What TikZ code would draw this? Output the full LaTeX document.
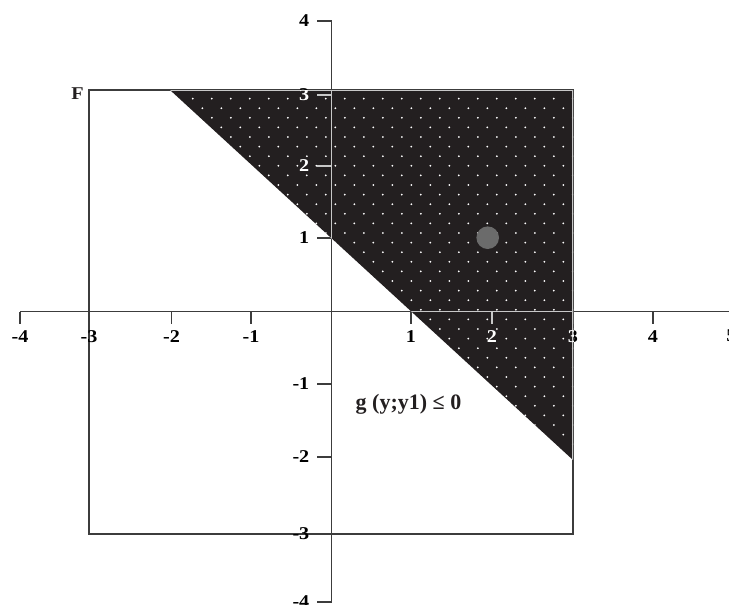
\documentclass[tikz,border=0pt]{standalone}
\usepackage{fontspec}
\setmainfont{Liberation Serif}
\newfontfamily\lblfont[FakeStretch=1.12]{Liberation Serif}
\definecolor{ink}{HTML}{3C3C3C}
\definecolor{darkfill}{HTML}{231F20}
\definecolor{knock}{HTML}{C8C8C8}
\definecolor{dotgray}{HTML}{6B6B6B}
\tikzset{
  axisline/.style={line width=1.3pt, draw=ink},
  ticklbl/.style={font=\lblfont\bfseries\fontsize{18}{20}\selectfont, inner sep=0pt},
  biglbl/.style={font=\bfseries\fontsize{22}{24}\selectfont, inner sep=0pt},
}
\begin{document}
\begin{tikzpicture}[x=1pt,y=-1pt]
\useasboundingbox (0,0) rectangle (729,605);
% region F
\draw[axisline] (89,90) rectangle (573,534);
% axes
\coordinate (xs) at (20,311.5);
\coordinate (xe) at (729,311.5);
\coordinate (ys) at (331.5,21);
\coordinate (ye) at (331.5,603);
\draw[axisline] (xs) -- (xe);
\draw[axisline] (ys) -- (ye);
\foreach \v/\p in {-4/20,-3/89,-2/171.5,-1/251,1/411,2/492,3/573,4/653}{
  \draw[axisline] (\p,311.5) -- (\p,324);
  \node[ticklbl, anchor=north] (xl\v) at (\p,330) {\v};
}
\node[ticklbl, anchor=north] (xl5) at (731.5,330) {5};
\foreach \v/\p in {4/21,3/95,2/166,1/238,-1/384,-2/457,-3/534,-4/602}{
  \draw[axisline] (331.5,\p) -- (317,\p);
  \node[ticklbl, anchor=east] (yl\v) at (309.5,\p) {\v};
}
% shaded half-plane within F
\fill[darkfill] (170,90) -- (573,90) -- (573,460) -- cycle;
\begin{scope}
  \clip (170,90) -- (573,90) -- (573,460) -- cycle;
  \foreach \r in {0,...,39}{
    \foreach \k in {0,...,22}{
      \fill[white] ({164.3+19*\k+9.5*mod(\r,2)},{89+9.6*\r}) circle (1.0);
    }
  }
  % knocked-out axes and labels
  \draw[axisline, draw=knock] (89,90) rectangle (573,534);
  \draw[axisline, draw=knock] (20,311.5) -- (729,311.5);
  \draw[axisline, draw=knock] (331.5,21) -- (331.5,603);
  \foreach \v/\p in {1/411,2/492,3/573,4/653}{
    \draw[axisline, draw=knock] (\p,311.5) -- (\p,324);
    \node[ticklbl, anchor=north, text=white] at (\p,330) {\v};
  }
  \foreach \v/\p in {3/95,2/166,1/238}{
    \draw[axisline, draw=knock] (331.5,\p) -- (317,\p);
    \node[ticklbl, anchor=east, text=white] at (309.5,\p) {\v};
  }
\end{scope}
% point
\node[circle, fill=dotgray, minimum size=22.6pt, inner sep=0pt] (pt) at (487.7,237.7) {};
% labels
\node[ticklbl, text=darkfill] (F) at (77.5,93.5) {F};
\node[biglbl, anchor=base, text=darkfill] (g) at (408.5,409) {g (y;y1) ≤ 0};
\end{tikzpicture}
\end{document}
